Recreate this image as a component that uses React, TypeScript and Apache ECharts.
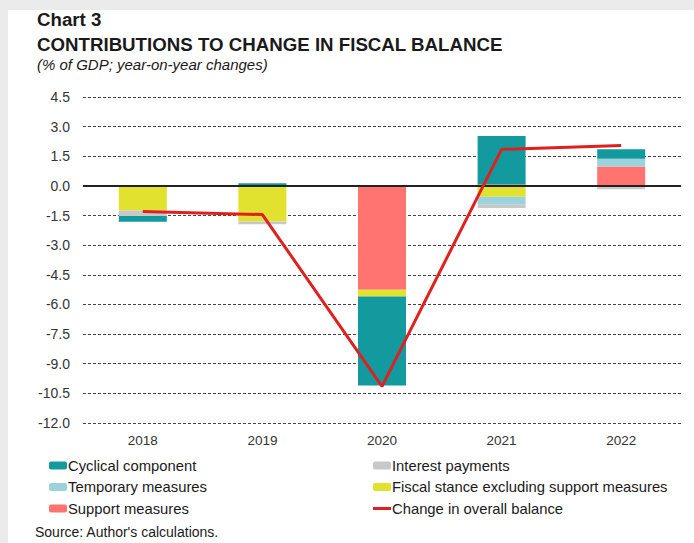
import React, { useEffect, useRef } from "react";
import * as echarts from "echarts";

const categories = ["2018", "2019", "2020", "2021", "2022"];
const supportMeasures = [0, 0, -5.25, 0.07, 0.98];
const fiscalStance = [-1.25, -1.8, -0.35, -0.55, 0];
const temporaryMeasures = [0, 0, 0, -0.4, 0.4];
const interestPayments = [-0.27, -0.14, 0, -0.17, -0.17];
const cyclicalComponent = [-0.3, 0.13, -4.5, 2.46, 0.48];
const overallChange = [-1.3, -1.45, -10.15, 1.85, 2.05];

const FONT = "Liberation Sans, Arial, sans-serif";

export default function App() {
  const ref = useRef<HTMLDivElement>(null);
  useEffect(() => {
    document.body.style.margin = "0";
    const chart = echarts.init(ref.current!, null, { renderer: "svg" });
    const bar = (name: string, data: number[], color: string) => ({
      name,
      type: "bar",
      stack: "total",
      data,
      barWidth: 48,
      itemStyle: { color },
      emphasis: { disabled: true },
    });
    const legendBase = {
      orient: "vertical",
      top: 458,
      padding: 0,
      itemWidth: 18,
      itemHeight: 8,
      itemGap: 6.5,
      symbolKeepAspect: true,
      textStyle: { fontSize: 14.8, color: "#1a1a1a", fontFamily: FONT, padding: [0, 0, 0, -4] },
    };
    chart.setOption({
      animation: false,
      backgroundColor: "#ffffff",
      textStyle: { fontFamily: FONT },
      graphic: [
        { type: "rect", shape: { x: 0, y: 0, width: 694, height: 10 }, style: { fill: "#ebebeb" }, silent: true },
        { type: "rect", shape: { x: 0, y: 0, width: 8, height: 543 }, style: { fill: "#ebebeb" }, silent: true },
        { type: "text", left: 37, top: 10, style: { text: "Chart 3", font: `bold 18.7px ${FONT}`, fill: "#1a1a1a" } },
        { type: "text", left: 37, top: 35, style: { text: "CONTRIBUTIONS TO CHANGE IN FISCAL BALANCE", font: `bold 18.7px ${FONT}`, fill: "#1a1a1a" } },
        { type: "text", left: 37, top: 57, style: { text: "(% of GDP; year-on-year changes)", font: `italic 15px ${FONT}`, fill: "#1a1a1a" } },
        { type: "text", left: 35, top: 525, style: { text: "Source: Author's calculations.", font: `14px ${FONT}`, fill: "#1a1a1a" } },
      ],
      grid: { left: 83, right: 13, top: 97, bottom: 120, containLabel: false },
      legend: [
        {
          ...legendBase,
          left: 49,
          data: ["Cyclical component", "Temporary measures", "Support measures"],
        },
        {
          ...legendBase,
          left: 373,
          data: [
            "Interest payments",
            "Fiscal stance excluding support measures",
            { name: "Change in overall balance", icon: "path://M0,0H18V3H0Z" },
          ],
        },
      ],
      xAxis: {
        type: "category",
        data: categories,
        axisLine: { show: false, onZero: false },
        axisTick: { show: false },
        axisLabel: { color: "#333", fontSize: 13.5, margin: 10, fontFamily: FONT },
      },
      yAxis: {
        type: "value",
        min: -12,
        max: 4.5,
        interval: 1.5,
        axisLine: { show: false },
        axisTick: { show: false },
        axisLabel: { color: "#333", fontSize: 14, margin: 13, fontFamily: FONT, formatter: (v: number) => v.toFixed(1) },
        splitLine: { lineStyle: { color: "#444", width: 1, type: [3, 2] } },
      },
      series: [
        bar("Support measures", supportMeasures, "#ff7470"),
        bar("Fiscal stance excluding support measures", fiscalStance, "#e1e12f"),
        bar("Temporary measures", temporaryMeasures, "#9cd2dc"),
        bar("Interest payments", interestPayments, "#c8c8c8"),
        bar("Cyclical component", cyclicalComponent, "#139a9e"),
        {
          name: "Change in overall balance",
          type: "line",
          data: overallChange,
          symbol: "none",
          lineStyle: { color: "#e0201f", width: 3 },
          itemStyle: { color: "#e0201f" },
          z: 5,
          markLine: {
            silent: true,
            symbol: "none",
            label: { show: false },
            lineStyle: { color: "#222", width: 2, type: "solid" },
            data: [{ yAxis: 0 }],
          },
        },
      ],
    });
    return () => chart.dispose();
  }, []);
  return <div ref={ref} style={{ width: 694, height: 543 }} />;
}
